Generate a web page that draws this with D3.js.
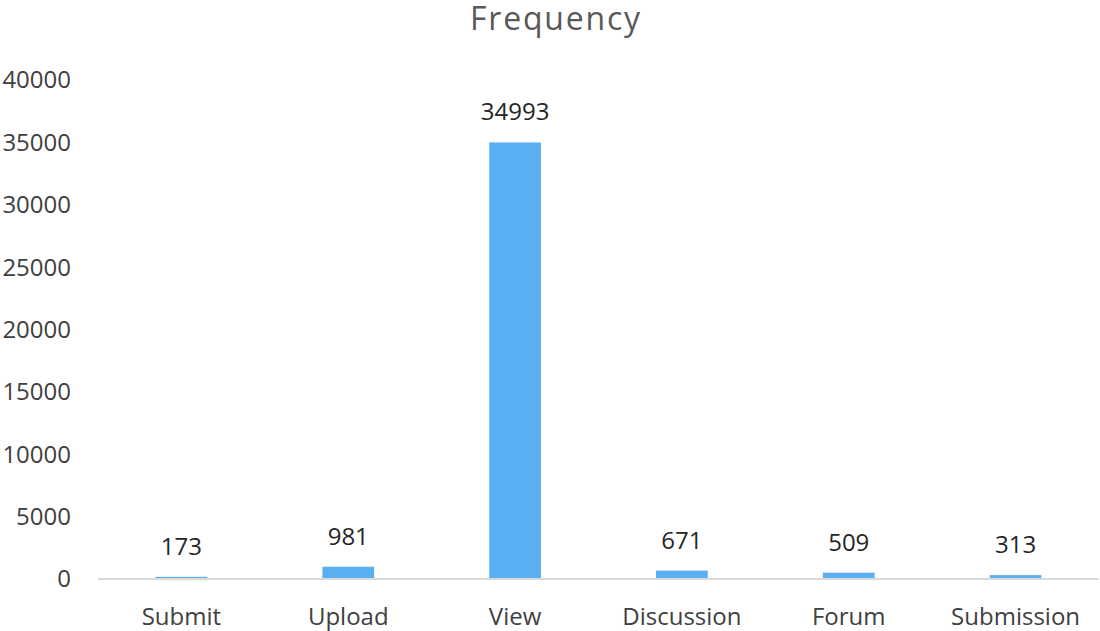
<!DOCTYPE html>
<html>
<head>
<meta charset="utf-8">
<script src="https://cdn.jsdelivr.net/npm/d3@7"></script>
<style>
  body { margin: 0; background: #fff; }
  svg { display: block; font-family: "Open Sans", sans-serif; }
</style>
</head>
<body>
<svg></svg>
<script>
// Daten
const categories = ["Submit", "Upload", "View", "Discussion", "Forum", "Submission"];
const frequency = [173, 981, 34993, 671, 509, 313];
const yTicks = [0, 5000, 10000, 15000, 20000, 25000, 30000, 35000, 40000];

const width = 1100;
const height = 631;
const margin = { top: 80, right: 1, bottom: 52, left: 98 };

const svg = d3.select("svg").attr("width", width).attr("height", height);

const scaleX = d3.scaleBand()
  .domain(categories)
  .range([margin.left, width - margin.right])
  .paddingInner(0.69)
  .paddingOuter(0.345);

const scaleY = d3.scaleLinear()
  .domain([0, 40000])
  .range([height - margin.bottom, margin.top]);

// Titel
svg.append("text")
  .attr("x", 556)
  .attr("y", 30)
  .attr("text-anchor", "middle")
  .style("font-size", "32px")
  .style("letter-spacing", "1.8px")
  .style("fill", "#595959")
  .text("Frequency");

// Y-Achse (nur Beschriftungen)
svg.append("g")
  .selectAll("text")
  .data(yTicks)
  .enter()
  .append("text")
  .attr("x", 71)
  .attr("y", (d) => scaleY(d))
  .attr("dy", "0.35em")
  .attr("text-anchor", "end")
  .style("font-size", "24px")
  .style("fill", "#404040")
  .text((d) => d);

// Balken
svg.append("g")
  .selectAll("rect")
  .data(frequency)
  .enter()
  .append("rect")
  .attr("x", (d, i) => scaleX(categories[i]))
  .attr("y", (d) => scaleY(d))
  .attr("width", scaleX.bandwidth())
  .attr("height", (d) => scaleY(0) - scaleY(d))
  .style("fill", "#5aaef2");

// Grundlinie
svg.append("line")
  .attr("x1", margin.left)
  .attr("x2", width - margin.right)
  .attr("y1", scaleY(0))
  .attr("y2", scaleY(0))
  .style("stroke", "#d9d9d9")
  .style("stroke-width", 2);

// Werte über den Balken
svg.append("g")
  .selectAll("text")
  .data(frequency)
  .enter()
  .append("text")
  .attr("x", (d, i) => scaleX(categories[i]) + scaleX.bandwidth() / 2)
  .attr("y", (d) => scaleY(d) - 22)
  .attr("text-anchor", "middle")
  .style("font-size", "24px")
  .style("fill", "#262626")
  .text((d) => d);

// X-Achsenbeschriftung
svg.append("g")
  .selectAll("text")
  .data(categories)
  .enter()
  .append("text")
  .attr("x", (d) => scaleX(d) + scaleX.bandwidth() / 2)
  .attr("y", 625)
  .attr("text-anchor", "middle")
  .style("font-size", "24px")
  .style("fill", "#404040")
  .text((d) => d);
</script>
</body>
</html>
